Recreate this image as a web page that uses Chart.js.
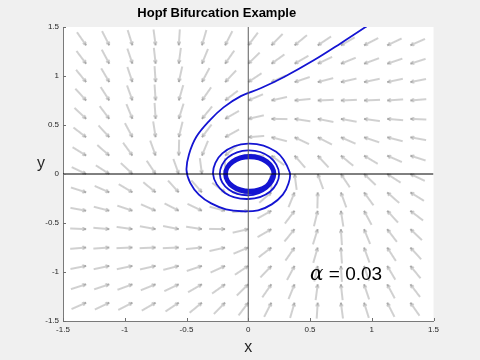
<!DOCTYPE html>
<html>
<head>
<meta charset="utf-8">
<title>Hopf Bifurcation Example</title>
<script src="https://cdn.jsdelivr.net/npm/chart.js@4.4.1/dist/chart.umd.min.js"></script>
<style>
  html, body { margin: 0; padding: 0; background: #f0f0f0; }
  #wrap { width: 480px; height: 360px; }
</style>
</head>
<body>
<div id="wrap"><canvas id="hopfChart" width="480" height="360"></canvas></div>
<script>
// ==================== DATA ====================
const tickValues = [-1.5, -1, -0.5, 0, 0.5, 1, 1.5];
const tickLabels = ['-1.5', '-1', '-0.5', '0', '0.5', '1', '1.5'];

// quiver grid (arrow heads sit on these points)
const gridX = [-1.3125, -1.125, -0.9375, -0.75, -0.5625, -0.375, -0.1875, 0, 0.1875, 0.375, 0.5625, 0.75, 0.9375, 1.125, 1.3125];
const gridY = [1.3125, 1.125, 0.9375, 0.75, 0.5625, 0.375, 0.1875, 0, -0.1875, -0.375, -0.5625, -0.75, -0.9375, -1.125, -1.3125];

// arrow direction in degrees (data space), one row per gridY value, top row first
const arrowAngles = [
    [299, 292, 284, 276, 267, 257, 248, 239, 232, 226, 220, 216, 213, 211, 209],
    [301, 293, 285, 275, 264, 252, 241, 231, 222, 216, 211, 207, 205, 203, 202],
    [303, 295, 285, 273, 260, 247, 233, 220, 210, 203, 198, 196, 195, 195, 194],
    [306, 297, 286, 273, 257, 241, 224, 208, 196, 187, 183, 183, 183, 185, 186],
    [310, 301, 288, 273, 256, 237, 216, 196, 179, 169, 166, 167, 170, 174, 177],
    [316, 306, 293, 277, 259, 239, 215, 186, 162, 149, 147, 151, 157, 162, 167],
    [322, 312, 300, 286, 269, 252, 227, 180, 137, 125, 126, 134, 143, 151, 158],
    [329, 321, 310, 298, 286, 276, 270, null, 90, 96, 106, 118, 130, 141, 149],
    [338, 331, 323, 314, 306, 305, 317, 0, 47, 72, 89, 106, 120, 132, 142],
    [347, 342, 337, 331, 327, 329, 342, 6, 35, 59, 79, 97, 113, 126, 136],
    [357, 354, 350, 347, 346, 349, 359, 16, 36, 57, 76, 93, 108, 121, 130],
    [6, 5, 3, 3, 3, 7, 16, 28, 44, 61, 77, 93, 106, 117, 126],
    [14, 15, 15, 16, 18, 23, 30, 40, 53, 67, 80, 93, 105, 115, 123],
    [22, 23, 25, 27, 31, 36, 42, 51, 61, 72, 84, 95, 105, 113, 121],
    [29, 31, 33, 36, 40, 46, 52, 59, 68, 77, 87, 96, 104, 112, 119]
];

// trajectory: first pass, two loose loops, then the dense band
const trajX = [
    1.02, 0.95, 0.75, 0.53, 0.29, 0.10, -0.06, -0.20, -0.31, -0.42, -0.48, -0.50, -0.47, -0.40, -0.30, -0.18, -0.05, 0.08, 0.19, 0.28, 0.325, 0.335,
    0.226, 0.0, -0.21, -0.285, -0.191, 0.0, 0.178, 0.25,
    0.174, 0.0, -0.167, -0.23, -0.158, 0.0, 0.15,
    0.22, 0.159, 0.012, -0.135, -0.196, -0.135, 0.012, 0.159,
    0.214, 0.155, 0.012, -0.131, -0.19, -0.131, 0.012, 0.155,
    0.208, 0.151, 0.012, -0.127, -0.184, -0.127, 0.012, 0.151,
    0.202, 0.146, 0.012, -0.122, -0.178, -0.122, 0.012, 0.146,
    0.198, 0.144, 0.012, -0.12, -0.174, -0.12, 0.012, 0.144,
    0.196, 0.142, 0.012, -0.118, -0.172, -0.118, 0.012, 0.142, 0.196
];
const trajY = [
    1.56, 1.50, 1.335, 1.16, 0.99, 0.875, 0.795, 0.68, 0.55, 0.38, 0.20, 0.04, -0.09, -0.21, -0.30, -0.36, -0.38, -0.37, -0.31, -0.21, -0.10, 0.02,
    0.226, 0.31, 0.21, 0.0, -0.191, -0.255, -0.178, 0.0,
    0.174, 0.242, 0.167, 0.0, -0.158, -0.217, -0.15,
    0.0, 0.139, 0.196, 0.139, 0.0, -0.139, -0.196, -0.139,
    0.0, 0.132, 0.186, 0.132, 0.0, -0.132, -0.186, -0.132,
    0.0, 0.125, 0.177, 0.125, 0.0, -0.125, -0.177, -0.125,
    0.0, 0.119, 0.169, 0.119, 0.0, -0.119, -0.169, -0.119,
    0.0, 0.115, 0.163, 0.115, 0.0, -0.115, -0.163, -0.115,
    0.0, 0.113, 0.16, 0.113, 0.0, -0.113, -0.16, -0.113, 0.0
];

// axis lines through the origin
const hLineX = [-1.5, 1.5];
const hLineY = [0, 0];
const vLineX = [0, 0];
const vLineY = [-1.5, 1.5];

const alphaText = { x: 0.5, y: -1, value: '0.03' };

// ==================== BUILD POINTS ====================
const arrowPoints = [];
gridY.forEach((y, r) => {
    gridX.forEach((x, c) => {
        const a = arrowAngles[r][c];
        if (a !== null) arrowPoints.push({ x: x, y: y, a: a });
    });
});
const trajectory = trajX.map((x, i) => ({ x: x, y: trajY[i] }));
const hLine = hLineX.map((x, i) => ({ x: x, y: hLineY[i] }));
const vLine = vLineX.map((x, i) => ({ x: x, y: vLineY[i] }));

// arrow sprite: head at the centre, shaft going left
function makeArrow(len, color) {
    const c = document.createElement('canvas');
    c.width = len * 2 + 2;
    c.height = 10;
    const g = c.getContext('2d');
    const hx = c.width / 2, hy = c.height / 2;
    g.strokeStyle = color;
    g.lineWidth = 1;
    g.beginPath();
    g.moveTo(hx - len, hy);
    g.lineTo(hx, hy);
    g.moveTo(hx - 3.5, hy - 1.5);
    g.lineTo(hx, hy);
    g.lineTo(hx - 3.5, hy + 1.5);
    g.stroke();
    return c;
}
const arrowImg = makeArrow(16, '#a2a2a2');

function arrowRotation(ctx) {
    const p = ctx.raw;
    if (!p) return 0;
    const sx = ctx.chart.scales.x, sy = ctx.chart.scales.y;
    const kx = sx.getPixelForValue(1) - sx.getPixelForValue(0);
    const ky = sy.getPixelForValue(0) - sy.getPixelForValue(1);
    const rad = p.a * Math.PI / 180;
    return Math.atan2(-Math.sin(rad) * ky, Math.cos(rad) * kx) * 180 / Math.PI;
}

// ==================== PLUGIN: MATLAB LOOK ====================
const FONT = '"Liberation Sans", Arial, Helvetica, sans-serif';
const matlabFrame = {
    id: 'matlabFrame',
    beforeDraw(chart) {
        const { ctx, chartArea: a } = chart;
        ctx.save();
        ctx.fillStyle = '#f0f0f0';
        ctx.fillRect(0, 0, chart.width, chart.height);
        ctx.fillStyle = '#ffffff';
        ctx.fillRect(a.left, a.top, a.right - a.left, a.bottom - a.top);
        ctx.restore();
    },
    afterDatasetsDraw(chart) {
        const { ctx, chartArea: a, scales } = chart;
        ctx.save();
        ctx.strokeStyle = '#6e6e6e';
        ctx.lineWidth = 1;
        ctx.beginPath();
        tickValues.forEach(v => {
            const px = Math.round(scales.x.getPixelForValue(v)) + 0.5;
            ctx.moveTo(px, a.bottom);
            ctx.lineTo(px, a.bottom - 3);
            const py = Math.round(scales.y.getPixelForValue(v)) + 0.5;
            ctx.moveTo(a.left, py);
            ctx.lineTo(a.left + 3, py);
        });
        ctx.stroke();
        ctx.restore();
    },
    afterDraw(chart) {
        const { ctx, chartArea: a, scales } = chart;
        ctx.save();
        ctx.fillStyle = '#262626';
        ctx.font = '16px ' + FONT;
        ctx.textAlign = 'center';
        ctx.textBaseline = 'alphabetic';
        ctx.fillText('x', (a.left + a.right) / 2, 352);
        ctx.fillText('y', 41, 167.5);

        // alpha annotation
        const tx = scales.x.getPixelForValue(alphaText.x);
        const ty = scales.y.getPixelForValue(alphaText.y) + 7.5;
        ctx.fillStyle = '#000000';
        ctx.textAlign = 'left';
        ctx.font = 'italic 20px "DejaVu Serif", "Liberation Serif", serif';
        ctx.fillText('α', tx, ty);
        const w = ctx.measureText('α').width;
        ctx.font = '19px ' + FONT;
        ctx.fillText(' = ' + alphaText.value, tx + w, ty);
        ctx.restore();
    }
};

// ==================== CHART ====================
const axisCommon = {
    type: 'linear',
    min: -1.5,
    max: 1.5,
    afterBuildTicks: s => { s.ticks = tickValues.map(v => ({ value: v })); },
    ticks: {
        autoSkip: false,
        maxRotation: 0,
        color: '#262626',
        padding: 4,
        font: { family: FONT, size: 8 },
        callback: v => tickLabels[tickValues.indexOf(v)]
    },
    grid: { drawOnChartArea: false, drawTicks: false },
    border: { color: '#7a7a7a', width: 1 }
};

new Chart(document.getElementById('hopfChart'), {
    type: 'scatter',
    data: {
        datasets: [
            {
                label: 'field',
                data: arrowPoints,
                pointStyle: arrowImg,
                pointRadius: 1,
                rotation: arrowRotation,
                showLine: false,
                order: 3
            },
            {
                label: 'trajectory',
                data: trajectory,
                showLine: true,
                pointRadius: 0,
                borderColor: '#1414d2',
                borderWidth: 1.8,
                tension: 0.36,
                order: 2
            },
            {
                label: 'x axis line',
                data: hLine,
                showLine: true,
                pointRadius: 0,
                borderColor: '#000000',
                borderWidth: 1,
                order: 1
            },
            {
                label: 'y axis line',
                data: vLine,
                showLine: true,
                pointRadius: 0,
                borderColor: '#5c5c5c',
                borderWidth: 1,
                order: 1
            }
        ]
    },
    options: {
        responsive: false,
        devicePixelRatio: 1,
        animation: false,
        events: [],
        layout: { padding: { left: 0, right: 46.5, top: 0, bottom: 0 } },
        elements: { line: { capBezierPoints: false } },
        plugins: {
            legend: { display: false },
            tooltip: { enabled: false },
            title: {
                display: true,
                text: 'Hopf Bifurcation Example',
                color: '#000000',
                font: { family: FONT, size: 13, weight: 'bold' },
                padding: { top: 6, bottom: 5.4 }
            }
        },
        scales: {
            x: Object.assign({}, axisCommon, { afterFit: s => { s.height = 39; } }),
            y: Object.assign({}, axisCommon, { afterFit: s => { s.width = 63; } })
        }
    },
    plugins: [matlabFrame]
});
</script>
</body>
</html>
